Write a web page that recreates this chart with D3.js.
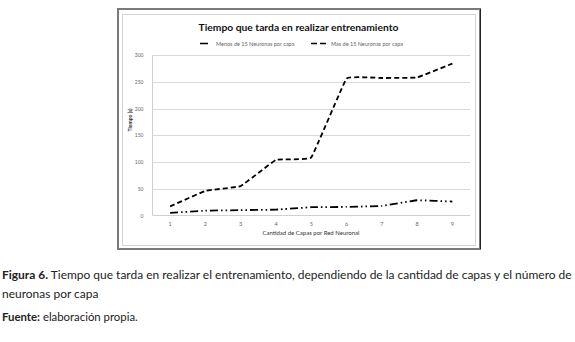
<!DOCTYPE html>
<html><head><meta charset="utf-8">
<script src="https://cdn.jsdelivr.net/npm/d3@7"></script>
<style>body{margin:0;background:#fff;}svg{display:block;}</style>
</head><body>
<svg id="c" width="575" height="342"></svg>
<script>
const categories = ["1","2","3","4","5","6","7","8","9"];
const menos15 = [5, 9, 10, 11, 15.5, 16, 18, 28.5, 26];
const mas15 = [17, 46, 55, 104, 108.5, 256, 257, 258, 284];
const yTicks = [0, 50, 100, 150, 200, 250, 300];
const seriesNames = ["Menos de 15 Neuronas por capa", "Mas de 15 Neuronas por capa"];

const svg = d3.select("#c");
const F = "Lato, 'Open Sans', sans-serif";

function fit(sel, w, base){
  let s = base; sel.style("font-size", s+"px");
  const l = sel.node().getComputedTextLength();
  if (l>0){ s = base * w / l; sel.style("font-size", s+"px"); }
  return sel;
}

// outer frame
svg.append("rect").attr("x",118).attr("y",9).attr("width",362).attr("height",240)
  .attr("fill","#fff").attr("stroke","#7a7a7a").attr("stroke-width",2);
svg.append("line").attr("x1",480.5).attr("x2",480.5).attr("y1",9).attr("y2",249).attr("stroke","#222").attr("stroke-width",1);
svg.append("rect").attr("x",122.5).attr("y",14.5).attr("width",353).attr("height",231)
  .attr("fill","#fff").attr("stroke","#d4d4d4").attr("stroke-width",1);

const x = d3.scaleBand().domain(categories).range([152.5,470]).padding(0);
const y = d3.scaleLinear().domain([0,300]).range([215.5,55]);

// gridlines
svg.append("g").selectAll("line").data(yTicks.filter(d=>d>0)).join("line")
  .attr("x1",152.5).attr("x2",470).attr("y1",d=>Math.round(y(d))+0.5).attr("y2",d=>Math.round(y(d))+0.5)
  .attr("stroke","#d9d9d9").attr("stroke-width",1);
// plot border (left & bottom)
svg.append("line").attr("x1",152.5).attr("x2",152.5).attr("y1",55).attr("y2",215.5).attr("stroke","#d0d0d0");
svg.append("line").attr("x1",152.5).attr("x2",470).attr("y1",215.5).attr("y2",215.5).attr("stroke","#d0d0d0");

// y axis labels
const yAxis = d3.axisLeft(y).tickValues(yTicks).tickSize(0).tickPadding(9);
const gy = svg.append("g").attr("transform","translate(152.5,0)").call(yAxis);
gy.select(".domain").remove();
gy.selectAll("text").attr("fill","#666").style("font-family",F).style("font-size","5px");

// x axis labels
const xAxis = d3.axisBottom(x).tickSize(0).tickPadding(7);
const gx = svg.append("g").attr("transform","translate(0,215.5)").call(xAxis);
gx.select(".domain").remove();
gx.selectAll("text").attr("fill","#666").style("font-family",F).style("font-size","5.5px");

// axis titles
svg.append("text").attr("transform","translate(131.5,120) rotate(-90)").attr("text-anchor","middle")
  .style("font-family",F).style("font-size","5px").style("font-weight","bold").attr("fill","#333").text("Tiempo (s)");
svg.append("text").attr("x",311).attr("y",235).attr("text-anchor","middle")
  .style("font-family",F).style("font-size","6px").attr("fill","#333").text("Cantidad de Capas por Red Neuronal");

// lines
const line = d3.line().x((d,i)=>x(categories[i])+x.bandwidth()/2).y(d=>y(d)).curve(d3.curveCardinal.tension(0.8));
const dashDot = "8,3,1.5,3,1.5,3";
const dashed = "5,3";
svg.append("path").datum(menos15).attr("d",line).attr("fill","none").attr("stroke","#000")
  .attr("stroke-width",1.8).attr("stroke-dasharray",dashDot);
svg.append("path").datum(mas15).attr("d",line).attr("fill","none").attr("stroke","#000")
  .attr("stroke-width",1.8).attr("stroke-dasharray",dashed);

// legend
svg.append("line").attr("x1",200).attr("x2",209).attr("y1",43.5).attr("y2",43.5).attr("stroke","#000").attr("stroke-width",1.5).attr("stroke-dasharray",dashDot);
svg.append("text").attr("x",216).attr("y",45.5).style("font-family",F).style("font-size","5.5px").attr("fill","#666").text(seriesNames[0]);
svg.append("line").attr("x1",311).attr("x2",326).attr("y1",43.5).attr("y2",43.5).attr("stroke","#000").attr("stroke-width",1.5).attr("stroke-dasharray","6,3");
svg.append("text").attr("x",331).attr("y",45.5).style("font-family",F).style("font-size","5.5px").attr("fill","#666").text(seriesNames[1]);

// title
const t = svg.append("text").attr("x",298.5).attr("y",31).attr("text-anchor","middle")
  .style("font-family",F).style("font-weight","bold").attr("fill","#111").text("Tiempo que tarda en realizar entrenamiento");
fit(t,200,12);

// caption
const c1 = svg.append("text").attr("x",2).attr("y",279).style("font-family",F).attr("fill","#222");
c1.append("tspan").style("font-weight","bold").text("Figura 6.");
c1.append("tspan").text(" Tiempo que tarda en realizar el entrenamiento, dependiendo de la cantidad de capas y el número de");
fit(c1,570,13);
const fs = parseFloat(c1.style("font-size"));
svg.append("text").attr("x",2).attr("y",298).style("font-family",F).style("font-size",fs+"px").attr("fill","#222").text("neuronas por capa");
const c3 = svg.append("text").attr("x",2).attr("y",321).style("font-family",F).style("font-size",(fs*0.95)+"px").attr("fill","#222");
c3.append("tspan").style("font-weight","bold").text("Fuente:");
c3.append("tspan").text(" elaboración propia.");
</script>
</body></html>
